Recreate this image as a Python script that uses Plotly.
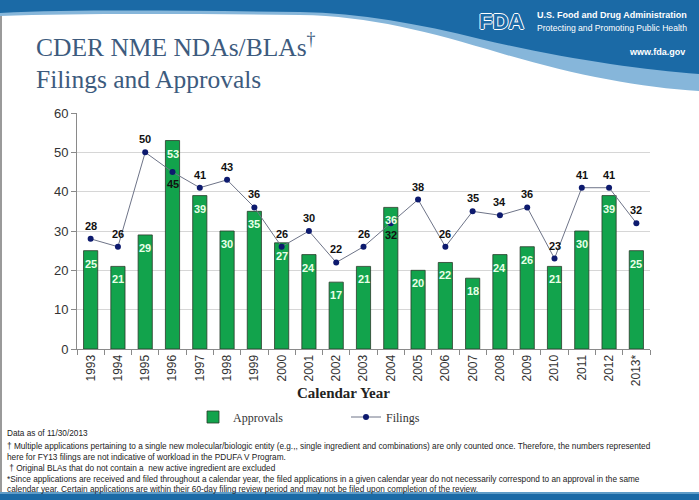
import plotly.graph_objects as go

years = ["1993","1994","1995","1996","1997","1998","1999","2000","2001","2002",
         "2003","2004","2005","2006","2007","2008","2009","2010","2011","2012","2013*"]
approvals = [25,21,29,53,39,30,35,27,24,17,21,36,20,22,18,24,26,21,30,39,25]
filings = [28,26,50,45,41,43,36,26,30,22,26,32,38,26,35,34,36,23,41,41,32]
# filings labels drawn below the point for these years
filings_below = ["1996","2004"]
y_ticks = [0,10,20,30,40,50,60]

W, H = 699, 500
def px(x, y):
    return x / W, 1 - y / H

def path(cmds):
    out = []
    for c in cmds:
        op = c[0]
        pts = c[1:]
        coords = []
        for i in range(0, len(pts), 2):
            a, b = px(pts[i], pts[i+1])
            coords.append(f"{a:.5f},{b:.5f}")
        out.append(op + " " + " ".join(coords))
    return " ".join(out) + " Z"

fig = go.Figure()
fig.add_trace(go.Bar(x=years, y=approvals, name="Approvals",
                     marker=dict(color="#12a34c", line=dict(color="#2a3a2a", width=0.8)),
                     width=0.52))
fig.add_trace(go.Scatter(x=years, y=filings, name="Filings", mode="lines+markers",
                         line=dict(color="#6e7488", width=1),
                         marker=dict(color="#0d1a6e", size=6)))

ann = []
# value labels (x given as category index)
for i, v in enumerate(approvals):
    ann.append(dict(x=i, y=v, xref="x", yref="y", text=f"<b>{v}</b>", showarrow=False,
                    yshift=-13,
                    font=dict(family="Liberation Sans, Arial", size=11, color="#e8ffe8")))
for i, (yr, v) in enumerate(zip(years, filings)):
    below = yr in filings_below
    ann.append(dict(x=i, y=v, xref="x", yref="y", text=f"<b>{v}</b>", showarrow=False,
                    yshift=-12 if below else 13,
                    font=dict(family="Liberation Sans, Arial", size=11, color="#111111")))

shapes = []
# left edge strip
shapes.append(dict(type="rect", xref="paper", yref="paper", layer="below",
                   x0=0, x1=2/W, y0=0, y1=1, fillcolor="#9a9a9a", line=dict(width=0)))
# header light strip
shapes.append(dict(type="path", xref="paper", yref="paper", layer="below",
                   path=path([("M",0,0),("L",699,0),("L",699,91),
                              ("C",640,88,570,74,500,53),("C",430,32,370,16,300,15),
                              ("C",200,14,80,13,0,16)]),
                   fillcolor="#86b6da", line=dict(width=0)))
# header dark blue
shapes.append(dict(type="path", xref="paper", yref="paper", layer="below",
                   path=path([("M",0,0),("L",699,0),("L",699,74),
                              ("C",640,70,560,58,480,39),("C",420,24,360,13,300,12),
                              ("C",200,11,80,9,0,13)]),
                   fillcolor="#1b6aa6", line=dict(width=0)))
# bottom band
shapes.append(dict(type="rect", xref="paper", yref="paper", layer="below",
                   x0=0, x1=1, y0=0, y1=1-493/H, fillcolor="#1b6aa6", line=dict(width=0)))
shapes.append(dict(type="rect", xref="paper", yref="paper", layer="below",
                   x0=0, x1=1, y0=1-494/H, y1=1-492/H, fillcolor="#5e9cc8", line=dict(width=0)))

def text(x, y, t, size, color, family, xanchor="left", yanchor="middle", shadow=None):
    a, b = px(x, y)
    f = dict(size=size, color=color, family=family)
    if shadow:
        f["shadow"] = shadow
    ann.append(dict(x=a, y=b, xref="paper", yref="paper", text=t, showarrow=False,
                    xanchor=xanchor, yanchor=yanchor, font=f))

serif = "Liberation Serif, Times New Roman, serif"
sans = "Liberation Sans, Arial, sans-serif"
outline = "1px 0 0 white, -1px 0 0 white, 0 1px 0 white, 0 -1px 0 white"
text(34, 46, "CDER NME NDAs/BLAs<sup>†</sup>", 25.5, "#3d5b7e", serif)
text(34, 79, "Filings and Approvals", 25.5, "#3d5b7e", serif)
text(477, 21, "<b>FDA</b>", 22, "#1b6aa6", sans, shadow=outline)
text(535, 15, "<b>U.S. Food and Drug Administration</b>", 9, "white", sans)
text(535, 28, "Protecting and Promoting Public Health", 8.6, "white", sans)
text(687, 52, "<b>www.fda.gov</b>", 9, "white", sans, xanchor="right")
text(343, 393, "<b>Calendar Year</b>", 15, "#222222", serif, xanchor="center")

foot = [
    (433, "Data as of 11/30/2013"),
    (446, "† Multiple applications pertaining to a single new molecular/biologic entity (e.g.,, single ingredient and combinations) are only counted once. Therefore, the numbers represented"),
    (457, "here for FY13 filings are not indicative of workload in the PDUFA V Program."),
    (468, " † Original BLAs that do not contain a  new active ingredient are excluded"),
    (479, "*Since applications are received and filed throughout a calendar year, the filed applications in a given calendar year do not necessarily correspond to an approval in the same"),
    (489, "calendar year. Certain applications are within their 60-day filing review period and may not be filed upon completion of the review."),
]
for y, t in foot:
    text(5, y, t, 8.25, "#222222", sans)

fig.update_layout(
    width=W, height=H,
    margin=dict(l=0, r=0, t=0, b=0, pad=0, autoexpand=False),
    paper_bgcolor="white", plot_bgcolor="white",
    shapes=shapes, annotations=ann,
    showlegend=True,
    legend=dict(orientation="h", x=193/W, y=1-417/H, xanchor="left", yanchor="middle",
                font=dict(family=serif, size=12, color="#333333"),
                entrywidth=108, entrywidthmode="pixels", bgcolor="rgba(0,0,0,0)"),
    xaxis=dict(domain=[77/W, 650/W], type="category", range=[-0.5, len(years)-0.5],
               tickangle=-90, autorange=False, automargin=False,
               showline=True, linecolor="#8a8a8a", ticks="outside", tickson="boundaries",
               ticklen=5, tickcolor="#8a8a8a", showgrid=False,
               tickfont=dict(family=sans, size=12, color="#333333")),
    yaxis=dict(domain=[1-349/H, 1-113/H], range=[0, 60], tickvals=y_ticks, automargin=False,
               showline=True, linecolor="#8a8a8a", ticks="outside", ticklen=5,
               tickcolor="#8a8a8a", gridcolor="#d6d6d6", zeroline=False,
               tickfont=dict(family=sans, size=13, color="#333333")),
)
fig.write_html("out.html", config={"displayModeBar": False},
               post_script="document.body.style.margin='0px';"
                           "document.body.style.overflow='hidden';"
                           "document.documentElement.style.overflow='hidden';")
